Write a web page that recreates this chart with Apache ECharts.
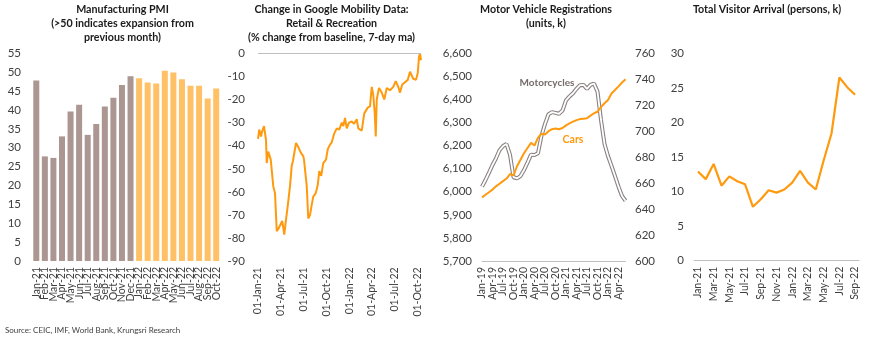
<!DOCTYPE html>
<html>
<head>
<meta charset="utf-8">
<script src="https://cdn.jsdelivr.net/npm/echarts@6/dist/echarts.min.js"></script>
<style>
  html, body { margin: 0; padding: 0; background: #ffffff; }
  #chart { width: 870px; height: 342px; }
</style>
</head>
<body>
<div id="chart"></div>
<script>
// ---- Manufacturing PMI ----
const pmiMonths = ['Jan-21','Feb-21','Mar-21','Apr-21','May-21','Jun-21','Jul-21','Aug-21','Sep-21','Oct-21','Nov-21','Dec-21',
                   'Jan-22','Feb-22','Mar-22','Apr-22','May-22','Jun-22','Jul-22','Aug-22','Sep-22','Oct-22'];
const pmiValues = [47.8, 27.7, 27.3, 33.0, 39.6, 41.4, 33.4, 36.3, 40.9, 43.2, 46.6, 48.9,
                   48.4, 47.3, 47.0, 50.4, 49.9, 48.1, 46.4, 46.4, 43.0, 45.7];

// ---- Google mobility: retail & recreation (% change from baseline, 7-day ma) ----
const mobilityDates = ['2021-01-01','2021-01-06','2021-01-13','2021-01-17','2021-01-25','2021-02-02','2021-02-05','2021-02-11','2021-02-21',
  '2021-03-03','2021-03-10','2021-03-17','2021-03-23','2021-03-30','2021-04-08','2021-04-16','2021-04-23','2021-04-30','2021-05-09',
  '2021-05-16','2021-05-21','2021-06-02','2021-06-11','2021-06-21','2021-07-01','2021-07-04','2021-07-15','2021-07-21','2021-07-28',
  '2021-08-04','2021-08-10','2021-08-20','2021-08-28','2021-09-03','2021-09-11','2021-09-19','2021-09-30','2021-10-07','2021-10-16',
  '2021-10-23','2021-11-01','2021-11-12','2021-11-22','2021-12-02','2021-12-08','2021-12-15','2021-12-22','2021-12-31','2022-01-11',
  '2022-01-20','2022-01-31','2022-02-06','2022-02-20','2022-03-02','2022-03-16','2022-03-25','2022-04-01','2022-04-07','2022-04-13',
  '2022-04-17','2022-04-21','2022-04-30','2022-05-11','2022-05-21','2022-05-31','2022-06-13','2022-06-26','2022-07-06','2022-07-16',
  '2022-07-23','2022-08-01','2022-08-12','2022-08-23','2022-09-01','2022-09-14','2022-09-25','2022-10-02','2022-10-07','2022-10-11',
  '2022-10-15'];
const mobilityValues = [-37, -33, -36, -34, -31.5, -37.5, -47.5, -42.5, -46,
  -57.5, -60.5, -77, -76, -74.5, -72.5, -78.5, -72, -66, -57.5,
  -48.5, -46.5, -38.8, -40.5, -43, -44.5, -46, -57.5, -71.5, -70,
  -65.5, -62, -60.5, -57, -51, -53, -47.5, -46, -41.5, -39.5,
  -38.5, -35, -32.5, -33, -30, -31.5, -28, -32.5, -30, -29.5,
  -30.5, -28.5, -32.5, -33.5, -26, -23.5, -23, -14.5, -18, -26,
  -36, -20, -15, -17, -20, -15, -16, -14.5, -12, -14.5,
  -17, -13.5, -12.5, -11.5, -8, -11, -11.5, -8.5, -1.5, 0,
  -3];
const mobilityTickLabels = ['01-Jan-21','01-Apr-21','01-Jul-21','01-Oct-21','01-Jan-22','01-Apr-22','01-Jul-22','01-Oct-22'];

// ---- Motor vehicle registrations (units, k) ----
const vehicleMonths = ['Jan-19','Feb-19','Mar-19','Apr-19','May-19','Jun-19','Jul-19','Aug-19','Sep-19','Oct-19','Nov-19','Dec-19',
  'Jan-20','Feb-20','Mar-20','Apr-20','May-20','Jun-20','Jul-20','Aug-20','Sep-20','Oct-20','Nov-20','Dec-20',
  'Jan-21','Feb-21','Mar-21','Apr-21','May-21','Jun-21','Jul-21','Aug-21','Sep-21','Oct-21','Nov-21','Dec-21',
  'Jan-22','Feb-22','Mar-22','Apr-22','May-22','Jun-22'];
const vehicleTickLabels = ['Jan-19','Apr-19','Jul-19','Oct-19','Jan-20','Apr-20','Jul-20','Oct-20',
  'Jan-21','Apr-21','Jul-21','Oct-21','Jan-22','Apr-22'];
const motorcycles = [6022, 6051, 6083, 6116, 6145, 6180, 6198, 6207, 6160, 6063, 6058, 6068,
  6094, 6126, 6161, 6159, 6167, 6243, 6294, 6336, 6345, 6342, 6338, 6352,
  6396, 6413, 6427, 6446, 6462, 6463, 6446, 6463, 6469, 6434, 6311, 6207,
  6155, 6112, 6068, 6022, 5982, 5961];
const cars = [649, 651, 653, 655, 657.5, 659.5, 661.5, 663.5, 667, 666, 673, 678,
  683, 687, 691, 689, 695, 698, 697.5, 700, 701.5, 702, 701.5, 702.5,
  704.5, 706, 707.3, 708.5, 709.3, 709.6, 709.9, 712, 713.8, 715, 718.5, 721.5,
  724, 729, 731.7, 734.5, 737.5, 740];

// ---- Total visitor arrival (persons, k) ----
const visitorMonths = ['Jan-21','Feb-21','Mar-21','Apr-21','May-21','Jun-21','Jul-21','Aug-21','Sep-21','Oct-21','Nov-21','Dec-21',
  'Jan-22','Feb-22','Mar-22','Apr-22','May-22','Jun-22','Jul-22','Aug-22','Sep-22'];
const visitorArrivals = [12.9, 11.8, 14.0, 10.85, 12.2, 11.5, 11.05, 7.8, 8.9, 10.2, 9.85, 10.3,
  11.3, 13.0, 11.3, 10.3, 14.5, 18.4, 26.5, 25.1, 24.0];

// ---- styling ----
const FONT = 'Lato, "Liberation Sans", sans-serif';
const LABEL_COLOR = '#404040';
const TITLE_COLOR = '#1a1a1a';
const ORANGE = '#FF9A0E';
const AXIS_GREY = '#BFBFBF';

// daily category axis for the mobility panel
const MONTH_ABBR = ['Jan','Feb','Mar','Apr','May','Jun','Jul','Aug','Sep','Oct','Nov','Dec'];
function pad(n) { return (n < 10 ? '0' : '') + n; }
const mobilityDays = [];
(function () {
  const d = new Date(Date.UTC(2021, 0, 1));
  const end = new Date(Date.UTC(2022, 9, 15));
  while (d <= end) {
    mobilityDays.push(d.getUTCFullYear() + '-' + pad(d.getUTCMonth() + 1) + '-' + pad(d.getUTCDate()));
    d.setUTCDate(d.getUTCDate() + 1);
  }
})();
function dayLabel(s) {
  const p = s.split('-');
  return p[2] + '-' + MONTH_ABBR[parseInt(p[1], 10) - 1] + '-' + p[0].slice(2);
}
const mobilitySeries = mobilityDates.map((d, i) => [mobilityDays.indexOf(d), mobilityValues[i]]);

function withCommas(v) { return String(v).replace(/\B(?=(\d{3})+(?!\d))/g, ','); }

const catLabel = {
  rotate: 90, fontSize: 10.5, color: LABEL_COLOR, fontFamily: FONT, margin: 6,
  hideOverlap: false
};
const valLabel = { fontSize: 11.5, color: LABEL_COLOR, fontFamily: FONT };

function titleText(text, x, y) {
  return {
    type: 'text', x: x, y: y, silent: true,
    style: {
      text: text, textAlign: 'center', textVerticalAlign: 'top',
      font: 'bold 10.7px ' + FONT, fill: TITLE_COLOR, lineHeight: 14.2
    }
  };
}

const chart = echarts.init(document.getElementById('chart'), null, { renderer: 'canvas' });

chart.setOption({
  animation: false,
  backgroundColor: '#ffffff',
  textStyle: { fontFamily: FONT },
  grid: [
    { left: 32, top: 53.3, width: 188.5, height: 207.7 },
    { left: 258, top: 53.3, width: 163, height: 208 },
    { left: 482, top: 53.3, width: 143.5, height: 207.7 },
    { left: 694, top: 53.3, width: 165, height: 207.4 }
  ],
  xAxis: [
    {
      gridIndex: 0, type: 'category', data: pmiMonths, boundaryGap: true,
      axisLine: { show: false }, axisTick: { show: false },
      axisLabel: Object.assign({}, catLabel, { interval: 0 })
    },
    {
      gridIndex: 1, type: 'category', data: mobilityDays, boundaryGap: false,
      axisLine: { show: false }, axisTick: { show: false },
      axisLabel: Object.assign({}, catLabel, {
        interval: function (idx, val) { return mobilityTickLabels.indexOf(dayLabel(val)) >= 0; },
        formatter: function (val) { return dayLabel(val); }
      })
    },
    {
      gridIndex: 2, type: 'category', data: vehicleMonths, boundaryGap: false,
      axisLine: { show: true, lineStyle: { color: AXIS_GREY, width: 1 } }, axisTick: { show: false },
      axisLabel: Object.assign({}, catLabel, {
        interval: 0,
        formatter: function (val) { return vehicleTickLabels.indexOf(val) >= 0 ? val : ''; }
      })
    },
    {
      gridIndex: 3, type: 'category', data: visitorMonths, boundaryGap: true,
      axisLine: { show: true, lineStyle: { color: AXIS_GREY, width: 1 } }, axisTick: { show: false },
      axisLabel: Object.assign({}, catLabel, { interval: 1 })
    }
  ],
  yAxis: [
    {
      gridIndex: 0, type: 'value', min: 0, max: 55, interval: 5,
      axisLine: { show: false }, axisTick: { show: false }, splitLine: { show: false },
      axisLabel: Object.assign({ margin: 11 }, valLabel)
    },
    {
      gridIndex: 1, type: 'value', min: -90, max: 0, interval: 10,
      axisLine: { show: false }, axisTick: { show: false }, splitLine: { show: false },
      axisLabel: Object.assign({ margin: 13 }, valLabel)
    },
    {
      gridIndex: 2, type: 'value', min: 5700, max: 6600, interval: 100, position: 'left',
      axisLine: { show: false }, axisTick: { show: false }, splitLine: { show: false },
      axisLabel: Object.assign({ margin: 10, formatter: withCommas }, valLabel)
    },
    {
      gridIndex: 2, type: 'value', min: 600, max: 760, interval: 20, position: 'right',
      axisLine: { show: false }, axisTick: { show: false }, splitLine: { show: false },
      axisLabel: Object.assign({ margin: 9.5 }, valLabel)
    },
    {
      gridIndex: 3, type: 'value', min: 0, max: 30, interval: 5,
      axisLine: { show: false }, axisTick: { show: false }, splitLine: { show: false },
      axisLabel: Object.assign({ margin: 10 }, valLabel)
    }
  ],
  series: [
    {
      name: 'Manufacturing PMI', type: 'bar', xAxisIndex: 0, yAxisIndex: 0,
      data: pmiValues, barCategoryGap: '30%',
      itemStyle: {
        color: function (p) { return /-21$/.test(pmiMonths[p.dataIndex]) ? '#AB9692' : '#FFC066'; }
      }
    },
    {
      name: 'Retail & Recreation', type: 'line', xAxisIndex: 1, yAxisIndex: 1,
      data: mobilitySeries, showSymbol: false, symbol: 'none',
      lineStyle: { color: ORANGE, width: 2 },
      markLine: {
        silent: true, symbol: 'none', label: { show: false },
        lineStyle: { color: AXIS_GREY, width: 1.2, type: 'solid' },
        data: [{ yAxis: 0 }]
      },
      z: 3
    },
    {
      name: 'Motorcycles', type: 'line', xAxisIndex: 2, yAxisIndex: 2,
      data: motorcycles, showSymbol: false, symbol: 'none',
      lineStyle: { color: '#8A8181', width: 4 }, z: 2
    },
    {
      name: 'Motorcycles core', type: 'line', xAxisIndex: 2, yAxisIndex: 2,
      data: motorcycles, showSymbol: false, symbol: 'none',
      lineStyle: { color: '#ffffff', width: 1.8 }, z: 3
    },
    {
      name: 'Cars', type: 'line', xAxisIndex: 2, yAxisIndex: 3,
      data: cars, showSymbol: false, symbol: 'none',
      lineStyle: { color: ORANGE, width: 2 }, z: 4
    },
    {
      name: 'Total Visitor Arrival', type: 'line', xAxisIndex: 3, yAxisIndex: 4,
      data: visitorArrivals, showSymbol: false, symbol: 'none',
      lineStyle: { color: ORANGE, width: 2.2 }
    }
  ],
  graphic: [
    titleText('Manufacturing PMI\n(>50 indicates expansion from\nprevious month)', 122.5, 2),
    titleText('Change in Google Mobility Data:\nRetail & Recreation\n(% change from baseline, 7-day ma)', 331.5, 2),
    titleText('Motor Vehicle Registrations\n(units, k)', 546, 2),
    titleText('Total Visitor Arrival (persons, k)', 767, 2),
    {
      type: 'text', x: 547, y: 83, silent: true,
      style: { text: 'Motorcycles', textAlign: 'center', textVerticalAlign: 'middle',
               font: 'bold 10px ' + FONT, fill: '#756B6B' }
    },
    {
      type: 'text', x: 573, y: 140, silent: true,
      style: { text: 'Cars', textAlign: 'center', textVerticalAlign: 'middle',
               font: 'bold 10.5px ' + FONT, fill: ORANGE }
    },
    {
      type: 'text', x: 5, y: 330.5, silent: true,
      style: { text: 'Source: CEIC, IMF, World Bank, Krungsri Research', textAlign: 'left',
               textVerticalAlign: 'middle', font: '8px ' + FONT, fill: '#404040' }
    }
  ]
});
</script>
</body>
</html>
